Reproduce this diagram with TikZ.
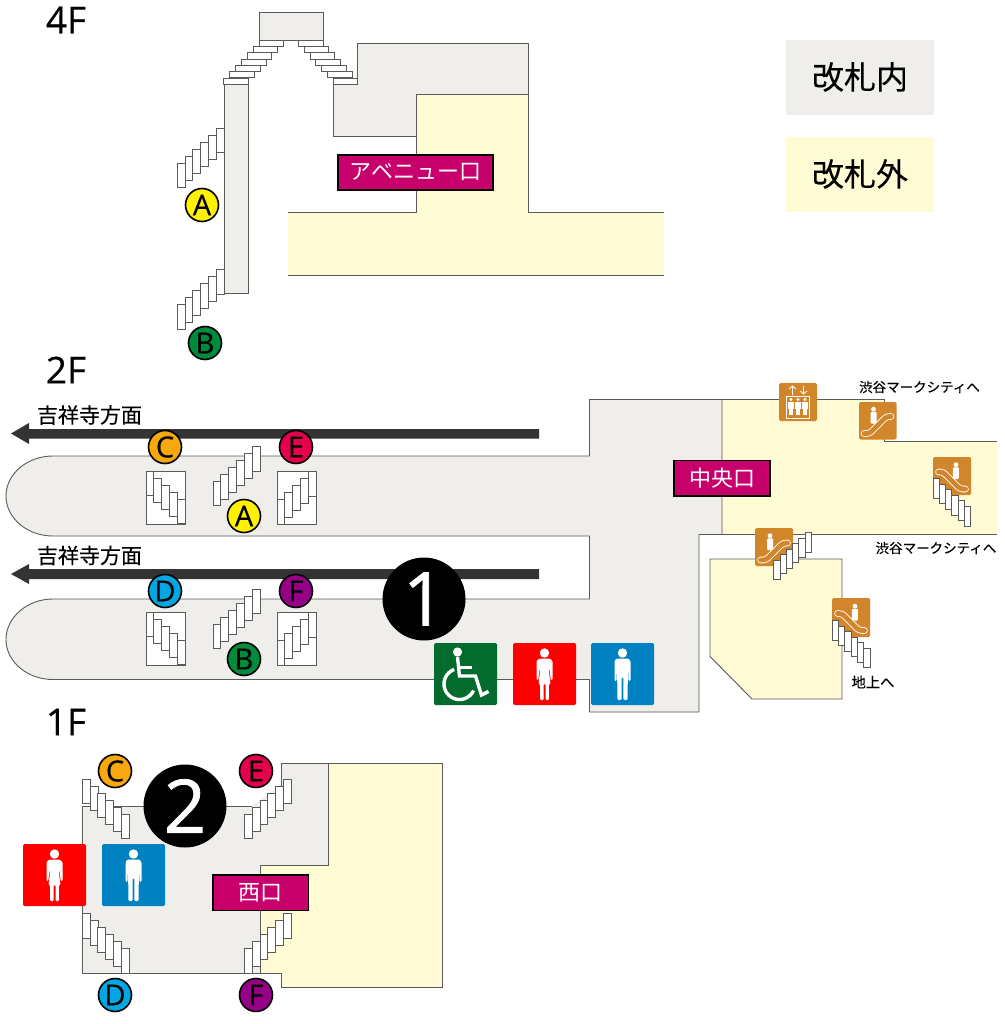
\documentclass[tikz,border=0pt]{standalone}
\usepackage{fontspec}
\usetikzlibrary{arrows.meta}
\setmainfont{Noto Sans CJK JP}
\newfontfamily\cjkmed[FakeBold=0.25]{Noto Sans CJK JP}
\newfontfamily\latinfont[FakeBold=0.4]{Open Sans}
\newfontfamily\numfont[FakeBold=1.0]{Open Sans}
\definecolor{ingate}{HTML}{EFEEEB}
\definecolor{outgate}{HTML}{FEFBD5}
\definecolor{wall}{HTML}{5A5A5A}
\definecolor{signc}{HTML}{C7006B}
\definecolor{escc}{HTML}{D2862B}
\definecolor{barc}{HTML}{333333}
\definecolor{wcg}{HTML}{046B2E}
\definecolor{wcr}{HTML}{FF0000}
\definecolor{wcb}{HTML}{0081C2}
\definecolor{lineA}{HTML}{FFF100}
\definecolor{lineB}{HTML}{008A3C}
\definecolor{lineC}{HTML}{F8A80F}
\definecolor{lineD}{HTML}{00A7E3}
\definecolor{lineE}{HTML}{E5004F}
\definecolor{lineF}{HTML}{950087}
\newcommand{\fs}[1]{\fontsize{#1}{#1}\selectfont}
% x0 y0 dx dy w h n-1
\newcommand{\stairsrun}[7]{\foreach \i in {0,...,#7}{\draw[stairrect] ({#1+\i*#3},{#2+\i*#4}) rectangle ++(#5,#6);}}
\newcommand{\manfig}[2]{\begin{scope}[shift={(#1,#2)}]
 \fill[white] (0,-21) circle (4.7);
 \fill[white,rounded corners=1.2] (-6,-15.5)--(6,-15.5)--(8,-13)--(8,7)--(6,7)--(5.5,-8)--(5,26)--(1,26)--(0.8,3)--(-0.8,3)--(-1,26)--(-5,26)--(-5.5,-8)--(-6,7)--(-8,7)--(-8,-13)--cycle;
\end{scope}}
\newcommand{\womanfig}[2]{\begin{scope}[shift={(#1,#2)}]
 \fill[white] (0,-21) circle (4.7);
 \fill[white,rounded corners=1] (-5,-15.5)--(5,-15.5)--(8,-13)--(8,6)--(6.2,6)--(5,-6)--(4.5,-2)--(6,10)--(4.3,10)--(4.3,26)--(1,26)--(1,10)--(-1,10)--(-1,26)--(-4.3,26)--(-4.3,10)--(-6,10)--(-4.5,-2)--(-5,-6)--(-6.2,6)--(-8,6)--(-8,-13)--cycle;
\end{scope}}
\newcommand{\wheelfig}[2]{\begin{scope}[shift={(#1,#2)}]
 \fill[white] (-8,-22) circle (4.6);
 \draw[white,line width=3.4] (-8,-17)--(-6,2)--(10,2)--(16,21)--(23,17.5);
 \draw[white,line width=3.4] (-7,-6.5)--(6,-6.5);
 \draw[white,line width=3.4] plot[smooth,samples=30,domain=250:25] ({-6+15.5*cos(\x)},{10+15.5*sin(\x)});
\end{scope}}
\newcommand{\escglyph}[3]{\begin{scope}[shift={(#1,#2)},xscale=#3]
 \draw[white,line width=6.6,line cap=round,line join=round,rounded corners=3] (-13.5,13)--(-8,13)--(9,-4)--(13.5,-4);
 \draw[escc,line width=4.9,line cap=round,line join=round,rounded corners=3] (-13.5,13)--(-8,13)--(9,-4)--(13.5,-4);
 \fill[white] (-4,-11.3) circle (2.4);
 \fill[white,rounded corners=1] (-6.8,-8.7) rectangle (-0.8,3);
\end{scope}}
\tikzset{
 wallline/.style={draw=wall,line width=0.9pt},
 stairrect/.style={draw=wall,fill=white,line width=0.9pt},
 lettercirc/.style={circle,draw=black,line width=1.6pt,minimum size=33pt,inner sep=0pt,font=\latinfont\fs{29},text=black},
 sign/.style={draw=black,line width=1.5pt,fill=signc,text=white,inner sep=0pt,font=\fs{22}},
 bignum/.style={circle,fill=black,text=white,minimum size=83pt,inner sep=0pt,font=\numfont\fs{74}},
 floor/.style={font=\latinfont\fs{37},text=black},
 small/.style={font=\cjkmed\fs{13.5},text=black,inner sep=0pt},
 mid/.style={font=\cjkmed\fs{21},text=black,inner sep=0pt},
 legendtxt/.style={font=\cjkmed\fs{32},text=black,inner sep=0pt},
 icon/.style={rounded corners=1.5,line width=0pt},
}
\begin{document}
\begin{tikzpicture}[x=1pt,y=-1pt]
\useasboundingbox (0,0) rectangle (1004,1024);
\fill[white] (0,0) rectangle (1004,1024);
% ---------- 4F
\node[floor] (floor4) at (66,20) {4F};
\fill[outgate] (416,94)--(528,94)--(528,212)--(664,212)--(664,275)--(288,275)--(288,212)--(416,212)--cycle;
\draw[wallline] (288,212)--(416,212)--(416,94)--(528,94)--(528,212)--(664,212);
\draw[wallline] (288,275)--(664,275);
\draw[wallline,fill=ingate] (333,84)--(357,84)--(357,43)--(528,43)--(528,94)--(416,94)--(416,136)--(333,136)--cycle;
\draw[wallline,fill=ingate] (259,12) rectangle (323,40);
\draw[wallline,fill=ingate] (224,84) rectangle (248,293);
\stairsrun{259}{40}{-5.85}{6.33}{24.5}{6.3}{6}
\stairsrun{298.5}{40}{5.8}{6.33}{24.5}{6.3}{6}
\stairsrun{177.3}{163.3}{7.8}{-7}{7.8}{24.6}{5}
\stairsrun{177.3}{304.7}{7.8}{-7}{7.8}{24.6}{5}
\node[lettercirc,fill=lineA] (A4) at (202,205) {A};
\node[lettercirc,fill=lineB] (B4) at (205,343) {B};
\node[sign,minimum width=155pt,minimum height=35pt] (avenue) at (415.5,172.5) {アベニュー口};
% ---------- legend
\fill[ingate] (786,40) rectangle (934,115);
\fill[outgate] (786,137) rectangle (934,212);
\node[legendtxt] (leg1) at (860,77) {改札内};
\node[legendtxt] (leg2) at (860,174) {改札外};
% ---------- 2F
\node[floor] (floor2) at (66,370) {2F};
\fill[outgate] (722,399.5)--(884,399.5)--(884,441)--(997,441)--(997,534.5)--(722,534.5)--cycle;
\draw[wallline] (722,399.5)--(884,399.5)--(884,441)--(997,441);
\draw[wallline] (699,534.5)--(997,534.5);
\draw[wallline,fill=ingate] (53,456)--(589.5,456)--(589.5,399.5)--(722,399.5)--(722,534.5)--(699,534.5)--(699,712)--(589.5,712)--(589.5,679.5)--(53,679.5)
 .. controls (27,679.5) and (6,661.5) .. (6,639.5) .. controls (6,617.5) and (27,599) .. (53,599)
 --(589.5,599)--(589.5,536)--(53,536) .. controls (27,536) and (6,518) .. (6,496) .. controls (6,474) and (27,456) .. (53,456) --cycle;
\draw[wallline,fill=outgate] (710,559)--(842,559)--(842,699)--(752,699)--(710,656.5)--cycle;
\fill[barc] (539,429)--(29,429)--(29,423)--(11,433.5)--(29,444)--(29,438.5)--(539,438.5)--cycle;
\fill[barc] (539,569)--(29,569)--(29,564)--(11,574)--(29,584)--(29,579)--(539,579)--cycle;
\node[mid] (kichi1) at (89.5,415) {吉祥寺方面};
\node[mid] (kichi2) at (89.5,555.5) {吉祥寺方面};
% boxed stairs
\foreach \bx/\by in {146/471,146/612}{
 \draw[stairrect] (\bx,\by) rectangle ++(39,53);
 \stairsrun{\bx}{\by}{7.8}{7}{7.8}{24.6}{4}
}
\foreach \bx/\by in {277/471,277/612}{
 \draw[stairrect] (\bx,\by) rectangle ++(39,53);
 \stairsrun{\bx}{\by+28.4}{7.8}{-7}{7.8}{24.6}{4}
}
\stairsrun{213}{481.3}{7.85}{-6.9}{7.8}{24.6}{5}
\stairsrun{213}{624.3}{7.85}{-7}{7.8}{24.6}{5}
\node[lettercirc,fill=lineC] (C2) at (165,447) {C};
\node[lettercirc,fill=lineE] (E2) at (296,447) {E};
\node[lettercirc,fill=lineA] (A2) at (244,516) {A};
\node[lettercirc,fill=lineD] (D2) at (165,591) {D};
\node[lettercirc,fill=lineF] (F2) at (296,591) {F};
\node[lettercirc,fill=lineB] (B2) at (244,659) {B};
\node[bignum] (one) at (424,599) {1};
\path[fill=wcg,icon] (434,643) rectangle (497,705);
\wheelfig{465.5}{674}
\path[fill=wcr,icon] (513,643) rectangle (576,705);
\womanfig{544.5}{674}
\path[fill=wcb,icon] (591,643) rectangle (654,705);
\manfig{622.5}{674}
\node[sign,minimum width=96pt,minimum height=35.5pt] (chuo) at (722,478) {中央口};
% escalators / elevator
\path[fill=escc,icon] (779,383) rectangle (817,421);
\begin{scope}[shift={(798,402)}]
 \draw[white,line width=0.9] (-11.3,-6) rectangle (11.3,16.5);
 \draw[white,line width=0.8,-{Straight Barb[length=3pt,width=7pt]}] (-5.5,-7.5)--(-5.5,-16.5);
 \draw[white,line width=0.8,-{Straight Barb[length=3pt,width=7pt]}] (5.5,-16.5)--(5.5,-7.5);
 \foreach \px in {-7,0,7}{
  \fill[white] (\px,-2.5) circle (1.7);
  \fill[white] (\px-2.8,-0.5) rectangle (\px+2.8,7);
  \fill[white] (\px-1.8,7) rectangle (\px+1.8,13);
 }
\end{scope}
\node[small] (mc1) at (919.5,387) {渋谷マークシティへ};
\node[small] (mc2) at (936,548) {渋谷マークシティへ};
\node[small,font=\cjkmed\fs{14.3}] (chijo) at (873,682) {地上へ};
\path[fill=escc,icon] (859,402) rectangle (896.5,439.5);
\escglyph{877.5}{420.5}{1}
\path[fill=escc,icon] (933,457) rectangle (971,495);
\escglyph{952}{476}{-1}
\stairsrun{933}{478.7}{6.27}{5.53}{6.3}{19.7}{5}
\path[fill=escc,icon] (755,528) rectangle (793,566);
\escglyph{774}{547}{1}
\stairsrun{773.7}{560}{6.3}{-5.47}{6.3}{19.3}{5}
\path[fill=escc,icon] (832,598) rectangle (870,637);
\escglyph{851}{617.5}{-1}
\stairsrun{832.3}{620.7}{6.27}{5.53}{6.3}{19.3}{5}
% ---------- 1F
\node[floor] (floor1) at (66,722) {1F};
\fill[outgate] (328,763)--(442.5,763)--(442.5,987)--(281,987)--(281,973)--(260,973)--(260,865)--(328,865)--cycle;
\fill[ingate] (82,806)--(252,806)--(281,785)--(281,763)--(328,763)--(328,865)--(260,865)--(260,973)--(82,973)--cycle;
\draw[wallline] (82,973)--(82,806)--(252,806);
\draw[wallline] (281,790)--(281,763)--(328,763)--(328,865)--(260,865)--(260,973);
\draw[wallline] (328,763)--(442.5,763)--(442.5,987)--(281,987)--(281,973)--(82,973);
\stairsrun{82.3}{779.3}{7.8}{6.93}{7.9}{24.5}{5}
\stairsrun{82.3}{913.7}{7.8}{7}{7.9}{24.5}{5}
\stairsrun{244.3}{814}{7.87}{-6.93}{7.9}{24.5}{5}
\stairsrun{244.3}{948.5}{7.87}{-6.93}{7.9}{24.5}{5}
\node[lettercirc,fill=lineC] (C1) at (115,771) {C};
\node[lettercirc,fill=lineE] (E1) at (256,771) {E};
\node[lettercirc,fill=lineD] (D1) at (115,995) {D};
\node[lettercirc,fill=lineF] (F1) at (256,995) {F};
\node[bignum] (two) at (185,806) {2};
\path[fill=wcr,icon] (23,844) rectangle (86,906);
\womanfig{54.5}{875}
\path[fill=wcb,icon] (102,844) rectangle (165,906);
\manfig{133.5}{875}
\node[sign,minimum width=95.5pt,minimum height=35.5pt] (nishi) at (260.5,892.7) {西口};
\end{tikzpicture}
\end{document}
